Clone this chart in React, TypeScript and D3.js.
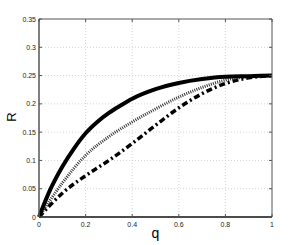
import * as d3 from "d3";

const qTicks = [0, 0.2, 0.4, 0.6, 0.8, 1];
const rTicks = [0, 0.05, 0.1, 0.15, 0.2, 0.25, 0.3, 0.35];

// solid curve
const solidQ = [0, 0.05, 0.1, 0.15, 0.2, 0.25, 0.3, 0.35, 0.4, 0.5, 0.6, 0.7, 0.8, 0.9, 1];
const solidR = [0, 0.05, 0.089, 0.121, 0.148, 0.168, 0.184, 0.197, 0.209, 0.226, 0.237, 0.244, 0.248, 0.249, 0.25];

// dotted curve
const dottedQ = [0, 0.1, 0.2, 0.3, 0.4, 0.5, 0.6, 0.7, 0.8, 0.9, 1];
const dottedR = [0, 0.06, 0.109, 0.142, 0.168, 0.191, 0.212, 0.229, 0.242, 0.248, 0.25];

// dash-dot curve
const dashQ = [0, 0.05, 0.1, 0.2, 0.3, 0.4, 0.5, 0.6, 0.7, 0.8, 0.9, 1];
const dashR = [0, 0.022, 0.042, 0.073, 0.1, 0.13, 0.162, 0.193, 0.218, 0.236, 0.246, 0.25];

const W = 300;
const H = 245;
const left = 39;
const right = 272;
const top = 19;
const bottom = 217;

export default function App() {
  const x = d3.scaleLinear().domain([0, 1]).range([left, right]);
  const y = d3.scaleLinear().domain([0, 0.35]).range([bottom, top]);

  const line = d3
    .line<[number, number]>()
    .x((d) => x(d[0]))
    .y((d) => y(d[1]))
    .curve(d3.curveMonotoneX);

  const solid = line(solidQ.map((q, i) => [q, solidR[i]] as [number, number])) ?? "";
  const dotted = line(dottedQ.map((q, i) => [q, dottedR[i]] as [number, number])) ?? "";
  const dashed = line(dashQ.map((q, i) => [q, dashR[i]] as [number, number])) ?? "";

  const font = "'Liberation Sans', Arial, sans-serif";

  return (
    <svg
      width={W}
      height={H}
      style={{ position: "absolute", left: 0, top: 0, background: "#fff" }}
    >
      <rect x={0} y={0} width={W} height={H} fill="#fff" />
      {/* grid */}
      <g stroke="#c8c8c8" strokeWidth={0.8} strokeDasharray="1,2">
        {qTicks.slice(1, -1).map((t) => (
          <line key={`gx${t}`} x1={x(t)} x2={x(t)} y1={top} y2={bottom} />
        ))}
        {rTicks.slice(1, -1).map((t) => (
          <line key={`gy${t}`} x1={left} x2={right} y1={y(t)} y2={y(t)} />
        ))}
      </g>
      {/* curves */}
      <path d={dashed} fill="none" stroke="#000" strokeWidth={3.5} strokeDasharray="6,3,2,3" />
      <path d={dotted} fill="none" stroke="#333" strokeWidth={3} strokeDasharray="1,1.2" />
      <path d={solid} fill="none" stroke="#000" strokeWidth={4} />
      {/* box */}
      <g stroke="#555" strokeWidth={1}>
        <line x1={left} x2={right} y1={top} y2={top} />
        <line x1={right} x2={right} y1={top} y2={bottom} />
        <line x1={left} x2={left} y1={top} y2={bottom} strokeWidth={1.5} />
      </g>
      <line x1={left} x2={right} y1={bottom} y2={bottom} stroke="#111" strokeWidth={1.5} />
      {/* ticks */}
      <g stroke="#555" strokeWidth={1}>
        {qTicks.map((t) => (
          <g key={`tx${t}`}>
            <line x1={x(t)} x2={x(t)} y1={bottom} y2={bottom - 3} />
            <line x1={x(t)} x2={x(t)} y1={top} y2={top + 3} />
          </g>
        ))}
        {rTicks.map((t) => (
          <g key={`ty${t}`}>
            <line x1={left} x2={left + 3} y1={y(t)} y2={y(t)} />
            <line x1={right} x2={right - 3} y1={y(t)} y2={y(t)} />
          </g>
        ))}
      </g>
      {/* tick labels */}
      <g fontFamily={font} fontSize={7} fill="#222">
        {qTicks.map((t) => (
          <text key={`lx${t}`} x={x(t)} y={bottom + 9.5} textAnchor="middle">
            {d3.format("~g")(t)}
          </text>
        ))}
        {rTicks.map((t) => (
          <text key={`ly${t}`} x={left - 3} y={y(t) + 2.5} textAnchor="end">
            {d3.format("~g")(t)}
          </text>
        ))}
      </g>
      {/* axis titles */}
      <text
        x={(left + right) / 2}
        y={238}
        textAnchor="middle"
        fontFamily={font}
        fontSize={14}
        fill="#000"
      >
        q
      </text>
      <text
        transform={`translate(16, 117) rotate(-90)`}
        textAnchor="middle"
        fontFamily={font}
        fontSize={13}
        fill="#000"
      >
        R
      </text>
    </svg>
  );
}
